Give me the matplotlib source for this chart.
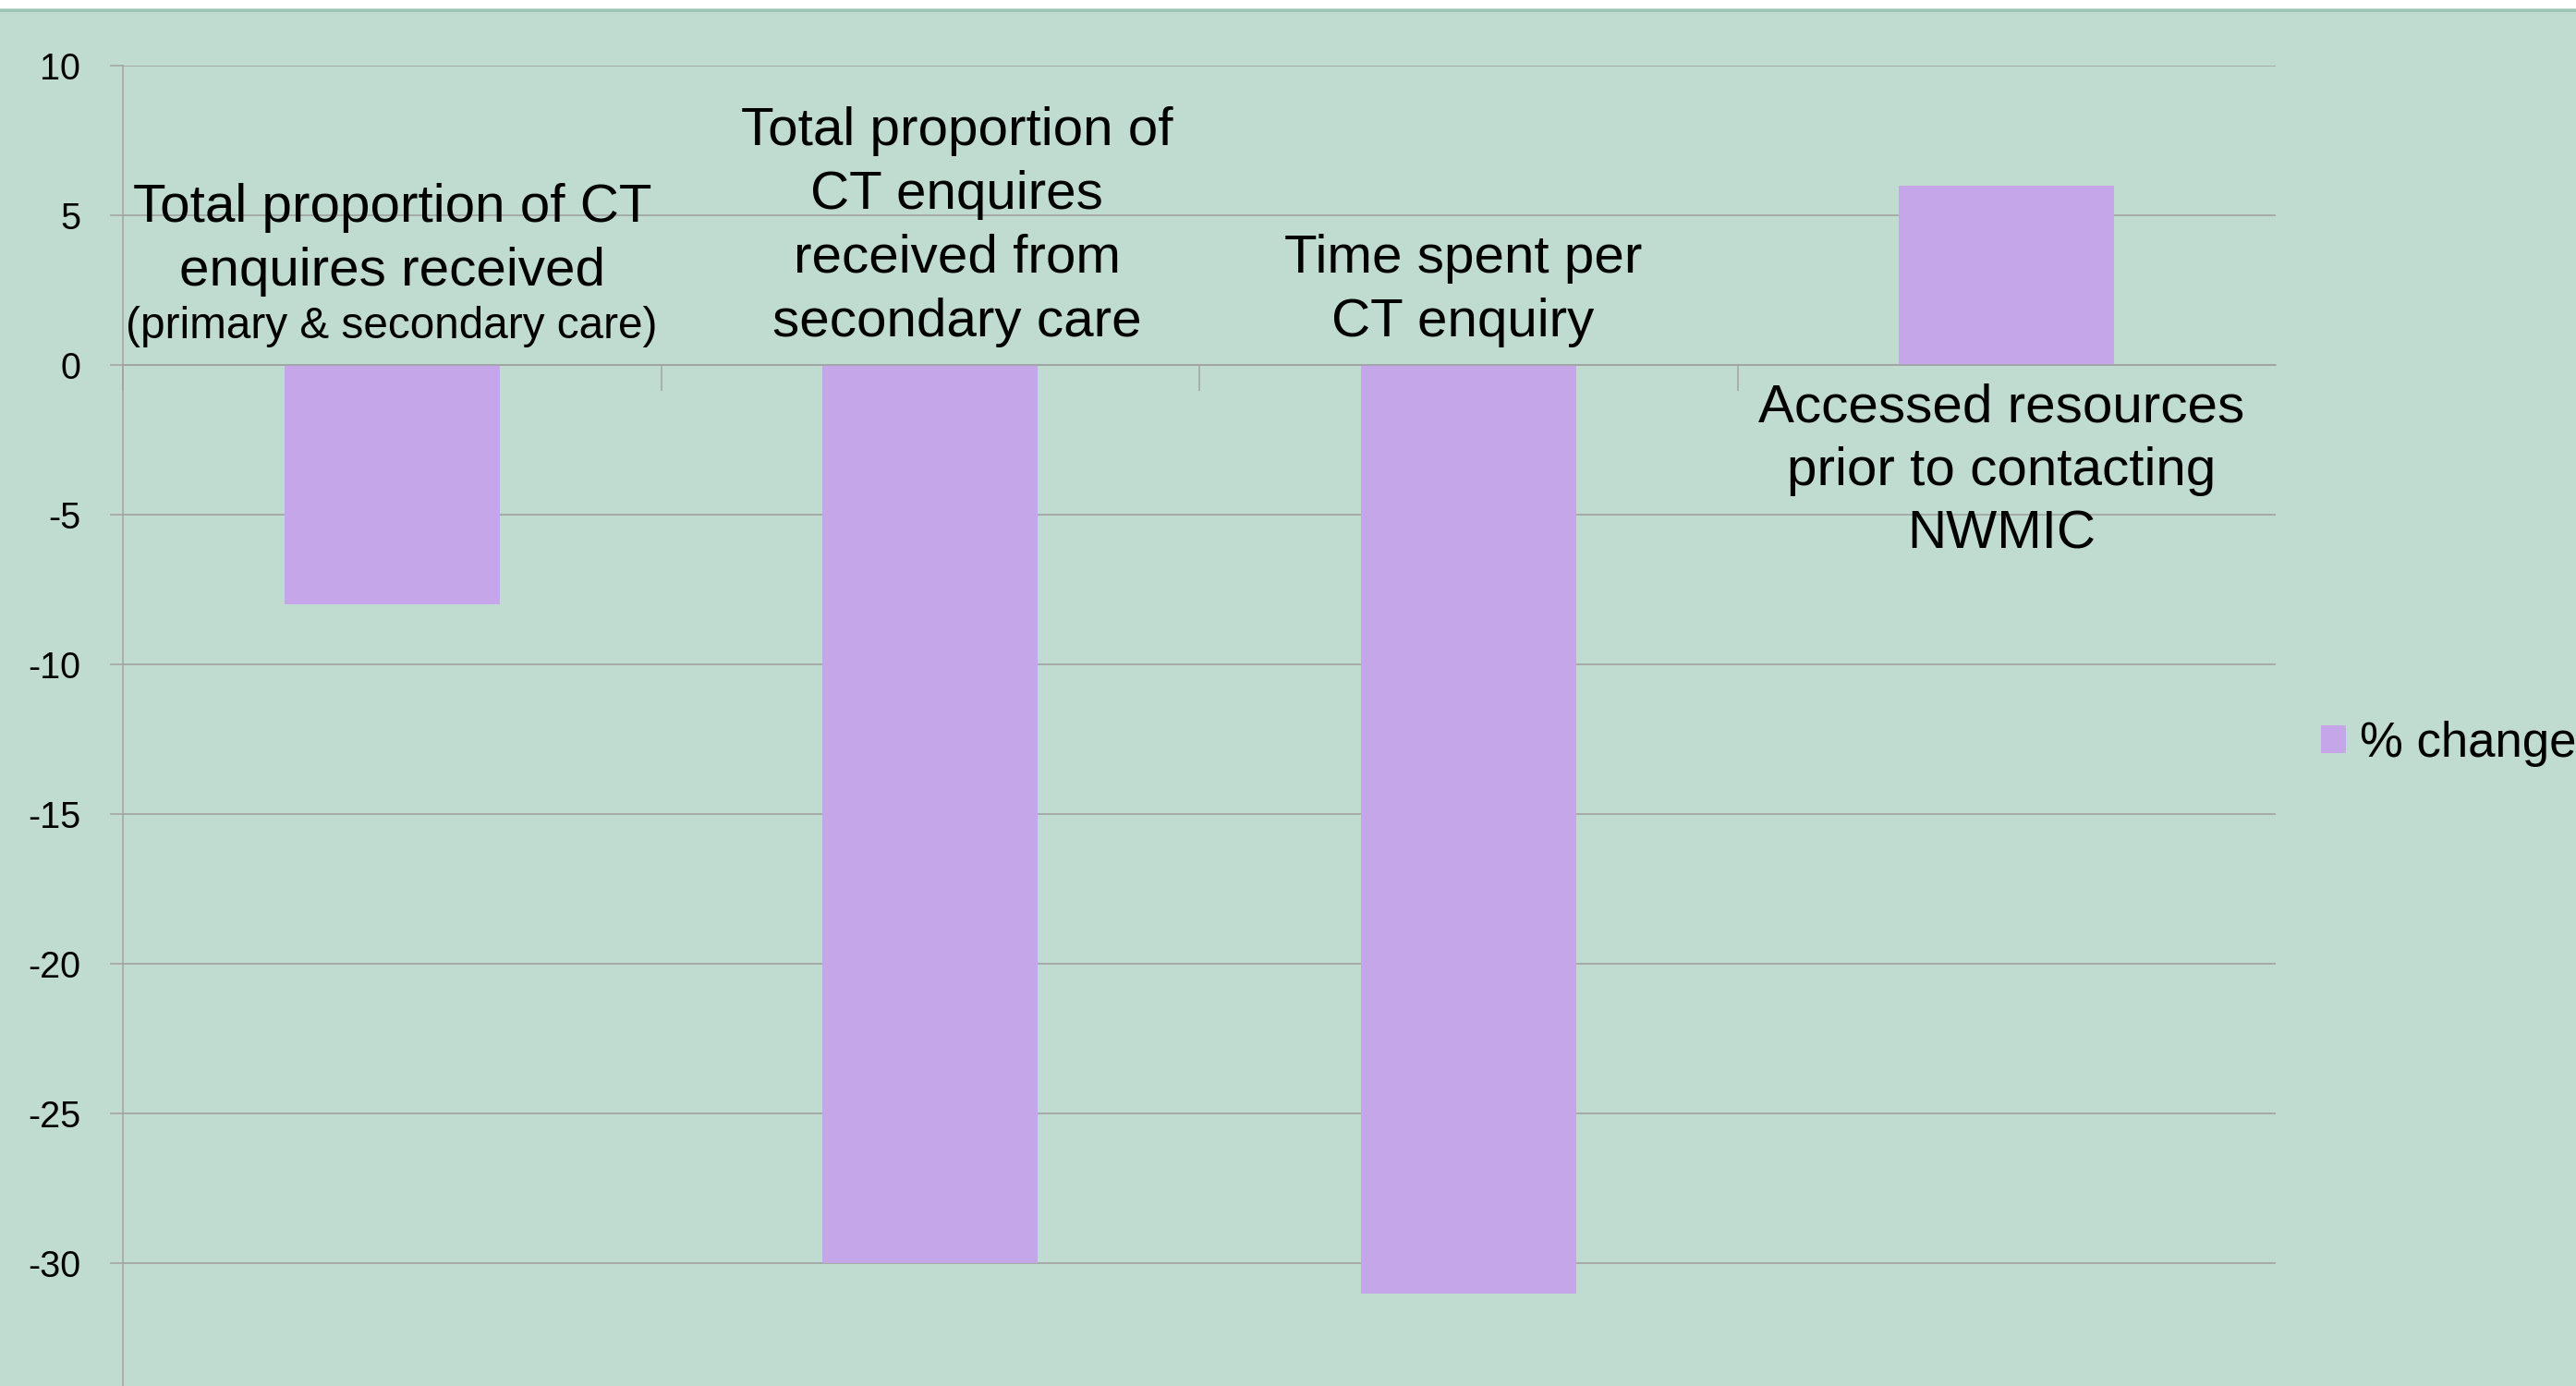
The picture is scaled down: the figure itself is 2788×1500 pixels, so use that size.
import matplotlib
matplotlib.use("Agg")
import matplotlib.pyplot as plt
from matplotlib.patches import Rectangle
from matplotlib.lines import Line2D

plt.rcParams["font.family"] = ["Liberation Sans", "DejaVu Sans"]

# data
categories = [
    "Total proportion of CT\nenquires received",
    "Total proportion of\nCT enquires\nreceived from\nsecondary care",
    "Time spent per\nCT enquiry",
    "Accessed resources\nprior to contacting\nNWMIC",
]
sub_labels = ["(primary & secondary care)", "", "", ""]
pct_change = [-8, -30, -31, 6]
series_name = "% change"
y_ticks = [-30, -25, -20, -15, -10, -5, 0, 5, 10]

bg = "#c0dcd1"
bar_color = "#c5a6e8"
grid_color = "#a0a3a0"

fig = plt.figure(figsize=(27.88, 15), dpi=100)
fig.patch.set_facecolor(bg)

# white strip and thin border line at the very top
fig.add_artist(Rectangle((0, 1 - 9 / 1500), 1, 9 / 1500, transform=fig.transFigure,
                         facecolor="white", edgecolor="none"))
fig.add_artist(Line2D([0, 1], [1 - 10.5 / 1500] * 2, transform=fig.transFigure,
                      color="#9cc4b4", lw=2.2))

ax = fig.add_axes([133 / 2788, 0, (2463 - 133) / 2788, 1 - 71 / 1500])
ax.set_facecolor(bg)

x = list(range(1, len(categories) + 1))
ax.bar(x, pct_change, width=0.4, color=bar_color, label=series_name, zorder=2)

ax.set_xlim(0.5, len(categories) + 0.5)
ax.set_ylim(-34.1, 10)
ax.set_yticks(y_ticks)
ax.set_yticklabels([str(v) for v in y_ticks], fontsize=28.5)
ax.yaxis.grid(True, color=grid_color, lw=1.2, zorder=0)
ax.set_axisbelow(True)

# category boundary ticks on the zero line
ax.set_xticks([i + 0.5 for i in range(len(categories))])
ax.set_xticklabels([])
ax.tick_params(axis="x", direction="out", length=20, width=1.1, color=grid_color)
ax.tick_params(axis="y", direction="out", length=10, width=1.1, color=grid_color, pad=23)

for side in ["top", "right"]:
    ax.spines[side].set_visible(False)
ax.spines["left"].set_color(grid_color)
ax.spines["left"].set_linewidth(1.1)
ax.spines["bottom"].set_position(("data", 0))
ax.spines["bottom"].set_color(grid_color)
ax.spines["bottom"].set_linewidth(1.1)

# category labels sit beside the zero line, away from the bar
label_x = [1.0, 2.05, 2.99, 3.99]
fs = 42
ls = 1.35
for i, (lab, sub, v) in enumerate(zip(categories, sub_labels, pct_change)):
    if v < 0:
        if sub:
            ax.text(label_x[i], 0.6, sub, ha="center", va="bottom", fontsize=34.4)
            ax.text(label_x[i], 2.28, lab, ha="center", va="bottom", fontsize=fs,
                    linespacing=ls)
        else:
            ax.text(label_x[i], 0.6, lab, ha="center", va="bottom", fontsize=fs,
                    linespacing=ls)
    else:
        ax.text(label_x[i], -0.6, lab, ha="center", va="top", fontsize=fs,
                linespacing=ls)

fig.legend(loc="center left", bbox_to_anchor=(2512 / 2788, 1 - 805 / 1500),
           frameon=False, fontsize=38, handlelength=0.51, handleheight=0.51,
           handletextpad=0.28, borderpad=0, borderaxespad=0)

fig.savefig("out.png", dpi=100, facecolor=bg)
